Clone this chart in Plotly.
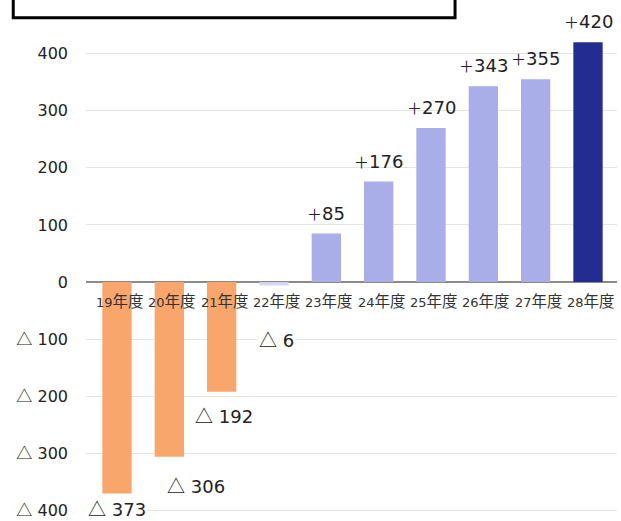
import plotly.graph_objects as go

categories = ["19年度", "20年度", "21年度", "22年度", "23年度", "24年度", "25年度", "26年度", "27年度", "28年度"]
values = [-373, -306, -192, -6, 85, 176, 270, 343, 355, 420]
tick_vals = [400, 300, 200, 100, 0, -100, -200, -300, -400]

CJK = "Noto Sans CJK JP"
NUM = "DejaVu Sans"
TRI = f"<span style='font-family:{CJK}'>△</span>"
PLUS = f"<span style='font-family:{CJK};font-size:15px'>＋</span>"


def fmt_value(v):
    return f"{PLUS}{v}" if v > 0 else f"{TRI} {abs(v)}"


def fmt_tick(v):
    return str(v) if v >= 0 else f"{TRI} {abs(v)}"


def fmt_cat(c):
    return f"<span style='font-family:{NUM};font-size:13px'>{c[:2]}</span>{c[2:]}"


tick_text = [fmt_tick(v) for v in tick_vals]

colors = ["#F9A66C", "#F9A66C", "#F9A66C", "#D6D8F2", "#A9ADE8", "#A9ADE8", "#A9ADE8", "#A9ADE8", "#A9ADE8", "#232C91"]

fig = go.Figure()
fig.add_trace(go.Bar(x=categories, y=values, marker=dict(color=colors, line=dict(width=0)),
                     width=0.56, hoverinfo="skip"))

# offsets for negative labels (styling)
neg_shift = {0: (0, -13), 1: (27, -28), 2: (2, -23), 3: (2, -54)}
for i, (c, v) in enumerate(zip(categories, values)):
    t = fmt_value(v)
    if v >= 0:
        fig.add_annotation(x=c, y=v, text=t, showarrow=False, yanchor="bottom", yshift=8,
                           font=dict(family=NUM, size=18, color="#222"))
    else:
        dx, dy = neg_shift[i]
        fig.add_annotation(x=c, y=v, text=t, showarrow=False, yanchor="middle", xshift=dx, yshift=dy,
                           bgcolor="white",
                           font=dict(family=NUM, size=18, color="#222"))
    fig.add_annotation(x=c, y=0, text=fmt_cat(c), showarrow=False, yanchor="top", yshift=-5, xshift=3,
                       font=dict(family=CJK, size=15.5, color="#333"))

fig.add_shape(type="rect", xref="paper", yref="paper", x0=-0.137, x1=0.695, y0=0.966, y1=1.05,
              line=dict(color="black", width=3), fillcolor="white")

fig.update_layout(
    width=621, height=521,
    margin=dict(l=86, r=4, t=0, b=0),
    paper_bgcolor="white", plot_bgcolor="white",
    showlegend=False,
    xaxis=dict(showticklabels=False, showgrid=False, zeroline=False, showline=False, ticks=""),
    yaxis=dict(range=[-415, 494], tickvals=tick_vals, ticktext=tick_text,
               tickfont=dict(family=NUM, size=16, color="#222"),
               showgrid=True, gridcolor="#E4E4E4", gridwidth=1,
               zeroline=True, zerolinecolor="#8A8A8A", zerolinewidth=2,
               ticks="", ticklabelstandoff=17, ticklabeloverflow="allow"),
)

fig.write_html("out.html")
